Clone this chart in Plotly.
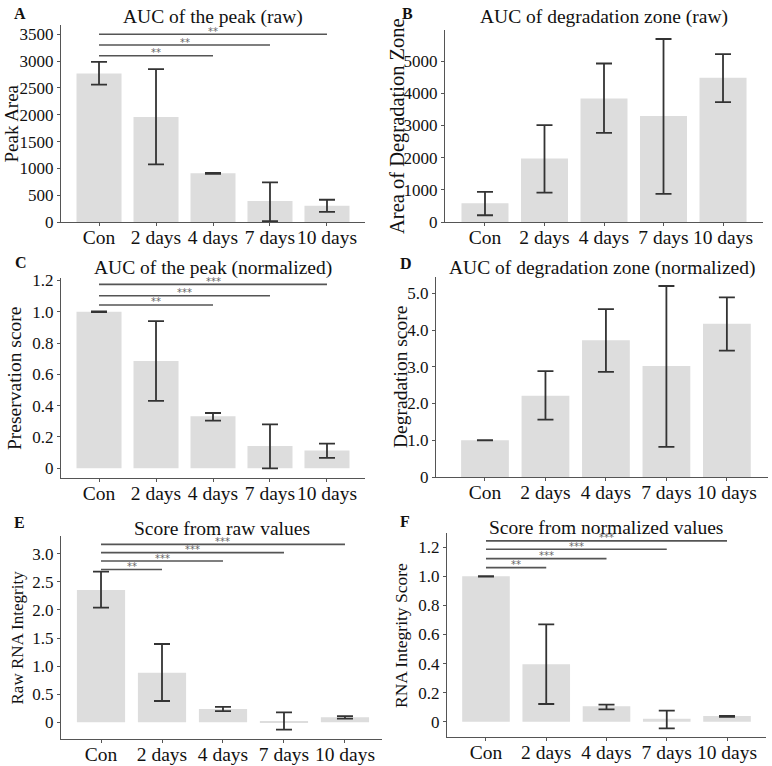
import plotly.graph_objects as go

categories = ["Con", "2 days", "4 days", "7 days", "10 days"]

# Panel A: AUC of the peak (raw)
a_mean = [2770, 1960, 910, 390, 305]
a_hi = [2985, 2850, 915, 740, 415]
a_lo = [2560, 1075, 900, 15, 190]
a_sig = [(2, "**", 3100), (3, "**", 3300), (4, "**", 3500)]

# Panel B: AUC of degradation zone (raw)
b_mean = [580, 1975, 3840, 3290, 4480]
b_hi = [935, 3010, 4925, 5685, 5215]
b_lo = [210, 915, 2770, 875, 3725]
b_sig = []

# Panel C: AUC of the peak (normalized)
c_mean = [1.0, 0.685, 0.332, 0.143, 0.113]
c_hi = [1.002, 0.94, 0.353, 0.281, 0.157]
c_lo = [0.998, 0.43, 0.304, 0.0, 0.066]
c_sig = [(2, "**", 1.043), (3, "***", 1.102), (4, "***", 1.174)]

# Panel D: AUC of degradation zone (normalized)
d_mean = [1.0, 2.21, 3.72, 3.02, 4.17]
d_hi = [1.005, 2.88, 4.57, 5.2, 4.89]
d_lo = [0.995, 1.56, 2.86, 0.82, 3.44]
d_sig = []

# Panel E: Score from raw values
e_mean = [2.353, 0.883, 0.237, 0.02, 0.089]
e_hi = [2.68, 1.393, 0.273, 0.178, 0.11]
e_lo = [2.04, 0.379, 0.2, -0.13, 0.065]
e_sig = [(1, "**", 2.72), (2, "***", 2.87), (3, "***", 3.02), (4, "***", 3.166)]

# Panel F: Score from normalized values
f_mean = [1.0, 0.395, 0.106, 0.02, 0.039]
f_hi = [1.002, 0.67, 0.117, 0.076, 0.04]
f_lo = [0.998, 0.122, 0.085, -0.046, 0.034]
f_sig = [(1, "**", 1.06), (2, "***", 1.122), (3, "***", 1.186), (4, "***", 1.244)]

FW, FH = 772, 766
FONT = "Liberation Serif"


def fx(px):
    return px / FW


def fy(py):
    return 1 - py / FH


panels = [
    dict(letter="A", title="AUC of the peak (raw)", ytitle="Peak Area",
         mean=a_mean, hi=a_hi, lo=a_lo, sig=a_sig,
         px=(61, 365), py=(25, 222), xr=(-0.667, 4.667), yr=(0, 3673),
         yticks=[0, 500, 1000, 1500, 2000, 2500, 3000, 3500],
         ytext=["0", "500", "1000", "1500", "2000", "2500", "3000", "3500"],
         title_y=17, ytitle_size=19, yt_size=17, ytitle_x=11, letter_pos=(20, 13)),
    dict(letter="B", title="AUC of degradation zone (raw)", ytitle="Area of Degradation Zone",
         mean=b_mean, hi=b_hi, lo=b_lo, sig=b_sig,
         px=(445, 763), py=(30, 222), xr=(-0.672, 4.672), yr=(0, 5965),
         yticks=[0, 1000, 2000, 3000, 4000, 5000],
         ytext=["0", "1000", "2000", "3000", "4000", "5000"],
         title_y=17, ytitle_size=20.5, yt_size=17, ytitle_x=397, letter_pos=(407, 13)),
    dict(letter="C", title="AUC of the peak (normalized)", ytitle="Preservation score",
         mean=c_mean, hi=c_hi, lo=c_lo, sig=c_sig,
         px=(61, 365), py=(278, 478), xr=(-0.667, 4.667), yr=(-0.062, 1.215),
         yticks=[0, 0.2, 0.4, 0.6, 0.8, 1.0, 1.2],
         ytext=["0", "0.2", "0.4", "0.6", "0.8", "1.0", "1.2"],
         title_y=268, ytitle_size=19.5, yt_size=17, ytitle_x=15, letter_pos=(21, 262)),
    dict(letter="D", title="AUC of degradation zone (normalized)", ytitle="Degradation score",
         mean=d_mean, hi=d_hi, lo=d_lo, sig=d_sig,
         px=(436, 768), py=(277, 477), xr=(-0.81, 4.68), yr=(0, 5.445),
         yticks=[0, 1, 2, 3, 4, 5],
         ytext=["0", "1.0", "2.0", "3.0", "4.0", "5.0"],
         title_y=268, ytitle_size=19.5, yt_size=17, ytitle_x=401, letter_pos=(406, 264)),
    dict(letter="E", title="Score from raw values", ytitle="Raw RNA Integrity",
         mean=e_mean, hi=e_hi, lo=e_lo, sig=e_sig,
         px=(61, 382), py=(536, 739), xr=(-0.656, 4.607), yr=(-0.297, 3.315),
         yticks=[0, 0.5, 1.0, 1.5, 2.0, 2.5, 3.0],
         ytext=["0", "0.5", "1.0", "1.5", "2.0", "2.5", "3.0"],
         title_y=528, ytitle_size=17, yt_size=17, ytitle_x=17, letter_pos=(19, 522)),
    dict(letter="F", title="Score from normalized values", ytitle="RNA Integrity Score",
         mean=f_mean, hi=f_hi, lo=f_lo, sig=f_sig,
         px=(447, 766), py=(533, 737), xr=(-0.647, 4.647), yr=(-0.105, 1.298),
         yticks=[0, 0.2, 0.4, 0.6, 0.8, 1.0, 1.2],
         ytext=["0", "0.2", "0.4", "0.6", "0.8", "1.0", "1.2"],
         title_y=527, ytitle_size=17.5, yt_size=17, ytitle_x=401, letter_pos=(405, 521)),
]

fig = go.Figure()
annotations = []
shapes = []
layout = {}

for i, p in enumerate(panels):
    n = i + 1
    xname = "x" if n == 1 else f"x{n}"
    yname = "y" if n == 1 else f"y{n}"
    xkey = "xaxis" if n == 1 else f"xaxis{n}"
    ykey = "yaxis" if n == 1 else f"yaxis{n}"
    plus = [h - m for h, m in zip(p["hi"], p["mean"])]
    minus = [m - l for m, l in zip(p["mean"], p["lo"])]
    fig.add_trace(go.Bar(
        x=categories, y=p["mean"], xaxis=xname, yaxis=yname,
        marker=dict(color="#dddddd", line=dict(width=0)),
        error_y=dict(type="data", symmetric=False, array=plus, arrayminus=minus,
                     color="#333333", thickness=1.8, width=8),
        showlegend=False, hoverinfo="skip",
    ))
    x0, x1 = fx(p["px"][0]), fx(p["px"][1])
    y0, y1 = fy(p["py"][1]), fy(p["py"][0])
    layout[xkey] = dict(
        domain=[x0, x1], anchor=yname, type="category", automargin=False,
        range=list(p["xr"]), showgrid=False, zeroline=False,
        showline=True, linecolor="#555555", linewidth=1.3,
        ticks="outside", ticklen=3, tickcolor="#555555", tickwidth=1.2,
        tickangle=0, ticklabelstandoff=-6,
        tickfont=dict(family=FONT, size=19.5, color="#111111"),
        fixedrange=True,
    )
    layout[ykey] = dict(
        domain=[y0, y1], anchor=xname, range=list(p["yr"]), automargin=False,
        showgrid=False, zeroline=False,
        showline=True, linecolor="#555555", linewidth=1.3,
        ticks="outside", ticklen=3, tickcolor="#555555", tickwidth=1.2,
        tickvals=p["yticks"], ticktext=p["ytext"],
        tickfont=dict(family=FONT, size=p["yt_size"], color="#111111"),
        fixedrange=True,
    )
    # y-axis title
    annotations.append(dict(
        text=p["ytitle"], xref="paper", yref="paper", textangle=-90,
        x=fx(p["ytitle_x"]), y=(y0 + y1) / 2, xanchor="center", yanchor="middle",
        showarrow=False, font=dict(family=FONT, size=p["ytitle_size"], color="#111111"),
    ))
    # title
    annotations.append(dict(
        text=p["title"], xref="paper", yref="paper",
        x=(x0 + x1) / 2, y=fy(p["title_y"]), xanchor="center", yanchor="middle",
        showarrow=False, font=dict(family=FONT, size=19.5, color="#111111"),
    ))
    # panel letter
    annotations.append(dict(
        text=f"<b>{p['letter']}</b>", xref="paper", yref="paper",
        x=fx(p["letter_pos"][0]), y=fy(p["letter_pos"][1]),
        xanchor="center", yanchor="middle", showarrow=False,
        font=dict(family=FONT, size=16, color="#111111"),
    ))
    # significance brackets
    for (j, label, level) in p["sig"]:
        shapes.append(dict(type="line", xref=xname, yref=yname,
                           x0=0, x1=j, y0=level, y1=level,
                           line=dict(color="#555555", width=1.6)))
        annotations.append(dict(
            text=label, xref=xname, yref=yname, x=j / 2, y=level,
            xanchor="center", yanchor="middle", yshift=3, showarrow=False,
            font=dict(family="DejaVu Sans", size=10, color="#666666"),
        ))

fig.update_layout(
    template="none",
    width=FW, height=FH, margin=dict(l=0, r=0, t=0, b=0, autoexpand=False),
    paper_bgcolor="white", plot_bgcolor="white",
    bargap=0.21, annotations=annotations, shapes=shapes,
    **layout,
)

fig.write_html("out.html", config={"displayModeBar": False},
               post_script="document.body.style.margin='0';")
